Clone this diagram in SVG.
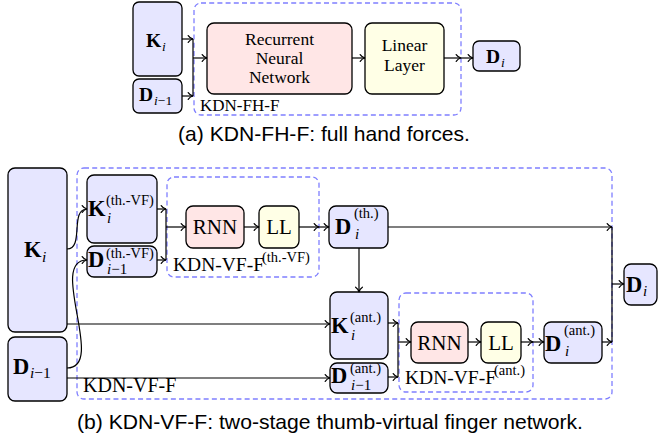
<svg xmlns="http://www.w3.org/2000/svg" width="659" height="442" viewBox="0 0 659 442">
<style>
.bx{fill:#e6e6ff;stroke:#000;stroke-width:1.3}
.rnn{fill:#ffe6e6;stroke:#000;stroke-width:1.3}
.ll{fill:#ffffe6;stroke:#000;stroke-width:1.3}
.dash{fill:none;stroke:#7f7fff;stroke-width:1.3;stroke-dasharray:5 3.2}
.c{fill:none;stroke:#000;stroke-width:1.2}
.s{font-family:"Liberation Serif","DejaVu Serif",serif;fill:#000}
.b{font-family:"Liberation Serif","DejaVu Serif",serif;font-weight:bold;fill:#000}
.it{font-family:"Liberation Serif","DejaVu Serif",serif;font-style:italic;fill:#000}
.up{font-style:normal}
.cap{font-family:"Liberation Sans",Arial,sans-serif;font-size:21px;fill:#000}
</style>
<defs>
<marker id="ar" viewBox="-6 -5 8 10" refX="0" refY="0" markerWidth="8" markerHeight="10" markerUnits="userSpaceOnUse" orient="auto">
<path d="M-4.8,-3.4 C-3.6,-1.6 -1.6,-0.35 0,0 C-1.6,0.35 -3.6,1.6 -4.8,3.4" fill="none" stroke="#000" stroke-width="1.2" stroke-linecap="round"/>
</marker>
</defs>

<!-- ===== (a) KDN-FH-F ===== -->
<g id="a-frame">
<rect class="dash" x="194" y="3" width="267" height="112" rx="7"/>
<text class="s" x="200" y="111" font-size="17">KDN-FH-F</text>
</g>
<g id="a-Ki">
<rect class="bx" x="133" y="2" width="49" height="74" rx="6"/>
<text class="b" x="146" y="47" font-size="19.5">K</text><text class="it" x="162" y="51" font-size="13.5">i</text>
</g>
<g id="a-Dim1">
<rect class="bx" x="133" y="79" width="49" height="34" rx="6"/>
<text class="b" x="139" y="101" font-size="19.5">D</text><text class="it" x="154" y="105" font-size="13.5">i<tspan class="up">−1</tspan></text>
</g>
<g id="a-rnn">
<rect class="rnn" x="207" y="23" width="145" height="71" rx="7"/>
<text class="s" x="279.5" y="45" font-size="17.5" text-anchor="middle">Recurrent</text>
<text class="s" x="279.5" y="64" font-size="17.5" text-anchor="middle">Neural</text>
<text class="s" x="279.5" y="83" font-size="17.5" text-anchor="middle">Network</text>
</g>
<g id="a-ll">
<rect class="ll" x="365" y="23" width="79" height="71" rx="7"/>
<text class="s" x="404.5" y="51" font-size="17.5" text-anchor="middle">Linear</text>
<text class="s" x="404.5" y="71" font-size="17.5" text-anchor="middle">Layer</text>
</g>
<g id="a-Di">
<rect class="bx" x="473" y="41" width="47" height="30" rx="6"/>
<text class="b" x="486" y="63" font-size="19.5">D</text><text class="it" x="501" y="67" font-size="13.5">i</text>
</g>

<!-- ===== (b) KDN-VF-F ===== -->
<g id="b-frame">
<rect class="dash" x="77" y="168" width="535" height="231" rx="7"/>
<text class="s" x="83" y="392" font-size="20">KDN-VF-F</text>
</g>
<g id="b-th-frame">
<rect class="dash" x="167" y="177" width="152" height="100" rx="7"/>
<text class="s" x="173" y="271" font-size="19.5">KDN-VF-F</text><text class="s" x="262" y="262" font-size="14.5">(th.-VF)</text>
</g>
<g id="b-ant-frame">
<rect class="dash" x="399" y="293" width="134" height="99" rx="7"/>
<text class="s" x="405" y="384" font-size="19.5">KDN-VF-F</text><text class="s" x="494" y="375" font-size="14.5">(ant.)</text>
</g>
<g id="b-Ki">
<rect class="bx" x="8" y="168" width="59" height="164" rx="7"/>
<text class="b" x="24" y="257" font-size="22.5">K</text><text class="it" x="42" y="262" font-size="15.5">i</text>
</g>
<g id="b-Dim1">
<rect class="bx" x="8" y="337" width="59" height="64" rx="7"/>
<text class="b" x="13" y="374" font-size="22.5">D</text><text class="it" x="30" y="378" font-size="15.5">i<tspan class="up">−1</tspan></text>
</g>
<g id="b-Kth">
<rect class="bx" x="87" y="175" width="70" height="68" rx="7"/>
<text class="b" x="88" y="216" font-size="22.5">K</text><text class="s" x="106" y="205" font-size="14.5">(th.-VF)</text><text class="it" x="107" y="223" font-size="15">i</text>
</g>
<g id="b-Dth-prev">
<rect class="bx" x="87" y="246" width="70" height="31" rx="7"/>
<text class="b" x="88" y="267" font-size="22.5">D</text><text class="s" x="106" y="258" font-size="14.5">(th.-VF)</text><text class="it" x="107" y="274" font-size="15">i<tspan class="up">−1</tspan></text>
</g>
<g id="b-rnn-th">
<rect class="rnn" x="186" y="206" width="58" height="42" rx="7"/>
<text class="s" x="215" y="234" font-size="21" text-anchor="middle">RNN</text>
</g>
<g id="b-ll-th">
<rect class="ll" x="259" y="206" width="40" height="42" rx="7"/>
<text class="s" x="279" y="234" font-size="21" text-anchor="middle">LL</text>
</g>
<g id="b-Dth">
<rect class="bx" x="329" y="206" width="59" height="42" rx="7"/>
<text class="b" x="335" y="234" font-size="22.5">D</text><text class="s" x="354" y="218" font-size="14.5">(th.)</text><text class="it" x="355" y="239" font-size="15">i</text>
</g>
<g id="b-Kant">
<rect class="bx" x="330" y="292" width="58" height="67" rx="7"/>
<text class="b" x="331" y="333" font-size="22.5">K</text><text class="s" x="350" y="322" font-size="14.5">(ant.)</text><text class="it" x="351" y="340" font-size="15">i</text>
</g>
<g id="b-Dant-prev">
<rect class="bx" x="330" y="363" width="58" height="30" rx="7"/>
<text class="b" x="331" y="383" font-size="22.5">D</text><text class="s" x="350" y="373" font-size="14.5">(ant.)</text><text class="it" x="351" y="390" font-size="15">i<tspan class="up">−1</tspan></text>
</g>
<g id="b-rnn-ant">
<rect class="rnn" x="411" y="322" width="57" height="41" rx="7"/>
<text class="s" x="439.5" y="350" font-size="21" text-anchor="middle">RNN</text>
</g>
<g id="b-ll-ant">
<rect class="ll" x="481" y="322" width="40" height="41" rx="7"/>
<text class="s" x="501" y="350" font-size="21" text-anchor="middle">LL</text>
</g>
<g id="b-Dant">
<rect class="bx" x="544" y="322" width="58" height="41" rx="7"/>
<text class="b" x="545" y="351" font-size="22.5">D</text><text class="s" x="564" y="335" font-size="14.5">(ant.)</text><text class="it" x="565" y="356" font-size="15">i</text>
</g>
<g id="b-Di">
<rect class="bx" x="624" y="264" width="33" height="41" rx="7"/>
<text class="b" x="626" y="292" font-size="22.5">D</text><text class="it" x="643" y="296" font-size="15">i</text>
</g>

<g id="connectors">
<!-- (a) -->
<path class="c" d="M182,39 H193" marker-end="url(#ar)"/>
<path class="c" d="M182,96 H193" marker-end="url(#ar)"/>
<path class="c" d="M193,39 V96"/>
<path class="c" d="M193,58 H207" marker-end="url(#ar)"/>
<path class="c" d="M352,58 H365" marker-end="url(#ar)"/>
<path class="c" d="M444,58 H461" marker-end="url(#ar)"/>
<path class="c" d="M461,58 H473" marker-end="url(#ar)"/>
<!-- (b) -->
<path class="c" d="M67,249 C84.5,249 69.5,209 87,209" marker-end="url(#ar)"/>
<path class="c" d="M67,368 C107,368 47,260 87,260" marker-end="url(#ar)"/>
<path class="c" d="M67,324 H330" marker-end="url(#ar)"/>
<path class="c" d="M67,378 H330" marker-end="url(#ar)"/>
<path class="c" d="M157,209 H166" marker-end="url(#ar)"/>
<path class="c" d="M157,260 H166" marker-end="url(#ar)"/>
<path class="c" d="M166,209 V260"/>
<path class="c" d="M166,227 H186" marker-end="url(#ar)"/>
<path class="c" d="M244,227 H259" marker-end="url(#ar)"/>
<path class="c" d="M299,227 H319" marker-end="url(#ar)"/>
<path class="c" d="M319,227 H329" marker-end="url(#ar)"/>
<path class="c" d="M388,227 H612" marker-end="url(#ar)"/>
<path class="c" d="M359,248 V292" marker-end="url(#ar)"/>
<path class="c" d="M388,323 H398" marker-end="url(#ar)"/>
<path class="c" d="M388,377 H398" marker-end="url(#ar)"/>
<path class="c" d="M398,323 V377"/>
<path class="c" d="M398,342 H411" marker-end="url(#ar)"/>
<path class="c" d="M468,342 H481" marker-end="url(#ar)"/>
<path class="c" d="M521,342 H533" marker-end="url(#ar)"/>
<path class="c" d="M533,342 H544" marker-end="url(#ar)"/>
<path class="c" d="M602,342 H612" marker-end="url(#ar)"/>
<path class="c" d="M612,227 V342"/>
<path class="c" d="M612,284 H624" marker-end="url(#ar)"/>
</g>

<g id="captions">
<text class="cap" x="178" y="141" textLength="292" lengthAdjust="spacingAndGlyphs">(a) KDN-FH-F: full hand forces.</text>
<text class="cap" x="77" y="429" textLength="506" lengthAdjust="spacingAndGlyphs">(b) KDN-VF-F: two-stage thumb-virtual finger network.</text>
</g>
</svg>
